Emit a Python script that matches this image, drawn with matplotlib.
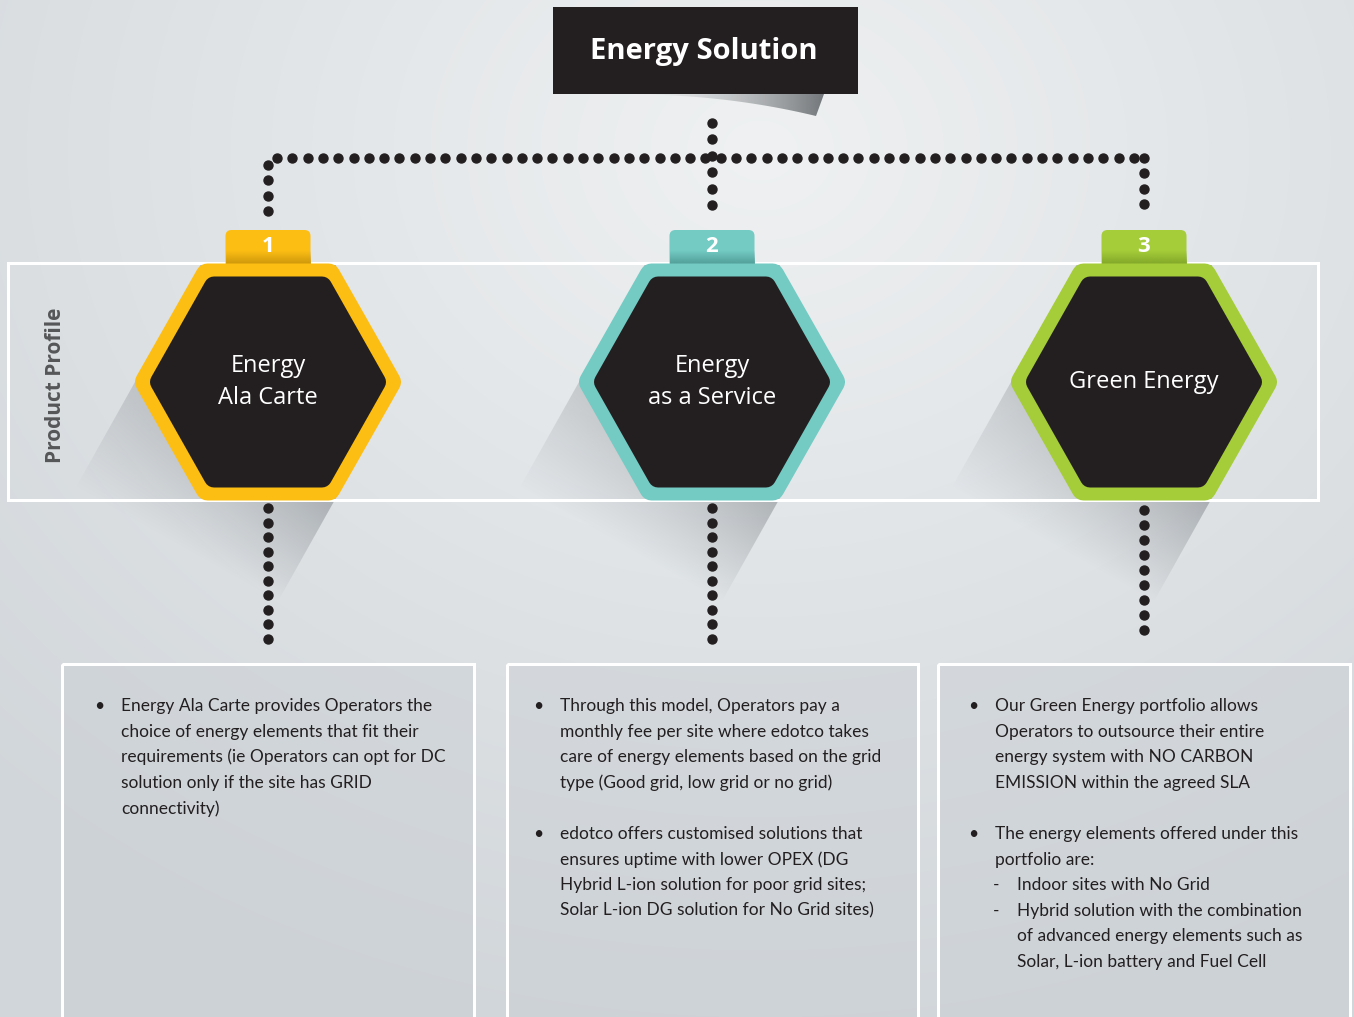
import numpy as np
import matplotlib
matplotlib.use("Agg")
import matplotlib.pyplot as plt
from matplotlib.patches import Polygon, Rectangle, FancyBboxPatch
from matplotlib.colors import to_rgb

W, H = 1354, 1017

# ---- content ----
title = "Energy Solution"
side_label = "Product Profile"
numbers = ["1", "2", "3"]
products = ["Energy\nAla Carte", "Energy\nas a Service", "Green Energy"]
colors = ["#fdbe14", "#73cbc4", "#a5cd39"]
tab_dark = ["#c9940a", "#4f9a94", "#7fa428"]
dark = "#231f20"

box1 = [("b", "Energy Ala Carte provides Operators the"),
        ("c", "choice of energy elements that fit their"),
        ("c", "requirements (ie Operators can opt for DC"),
        ("c", "solution only if the site has GRID"),
        ("c", "connectivity)")]
box2 = [("b", "Through this model, Operators pay a"),
        ("c", "monthly fee per site where edotco takes"),
        ("c", "care of energy elements based on the grid"),
        ("c", "type (Good grid, low grid or no grid)"),
        ("", ""),
        ("b", "edotco offers customised solutions that"),
        ("c", "ensures uptime with lower OPEX (DG"),
        ("c", "Hybrid L-ion solution for poor grid sites;"),
        ("c", "Solar L-ion DG solution for No Grid sites)")]
box3 = [("b", "Our Green Energy portfolio allows"),
        ("c", "Operators to outsource their entire"),
        ("c", "energy system with NO CARBON"),
        ("c", "EMISSION within the agreed SLA"),
        ("", ""),
        ("b", "The energy elements offered under this"),
        ("c", "portfolio are:"),
        ("d", "Indoor sites with No Grid"),
        ("d", "Hybrid solution with the combination"),
        ("dc", "of advanced energy elements such as"),
        ("dc", "Solar, L-ion battery and Fuel Cell")]
boxes = [box1, box2, box3]

# ---- layout ----
hex_x = [268, 712, 1144]
hex_y = 382
box_left = [62, 507, 938]
box_right = [474, 918, 1350]
text_x = [121, 560, 995]


def px(v):
    # pixels -> points
    return v * 72 / 100


def gradient_fill(ax, verts, rgb, alpha_fn, zorder):
    verts = np.asarray(verts, float)
    clip = Polygon(verts, closed=True, facecolor="none", edgecolor="none")
    ax.add_patch(clip)
    x0, x1 = verts[:, 0].min(), verts[:, 0].max()
    y0, y1 = verts[:, 1].min(), verts[:, 1].max()
    nx, ny = int(x1 - x0) + 2, int(y1 - y0) + 2
    X, Y = np.meshgrid(np.linspace(x0, x1, nx), np.linspace(y0, y1, ny))
    img = np.zeros((ny, nx, 4))
    img[..., :3] = to_rgb(rgb)
    img[..., 3] = np.clip(alpha_fn(X, Y), 0, 1)
    im = ax.imshow(img, extent=(x0, x1, y1, y0), origin="upper",
                   interpolation="bilinear", zorder=zorder)
    im.set_clip_path(clip)


def hexagon(cx, cy, a, b):
    return np.array([(cx + a, cy), (cx + a / 2, cy + b), (cx - a / 2, cy + b),
                     (cx - a, cy), (cx - a / 2, cy - b), (cx + a / 2, cy - b)])


fig = plt.figure(figsize=(W / 100, H / 100), dpi=100)
ax = fig.add_axes([0, 0, 1, 1])

# background
yy, xx = np.mgrid[0:H, 0:W]
r = np.sqrt(((xx - 760) / 1100) ** 2 + ((yy - 150) / 900) ** 2)
light = np.array(to_rgb("#eff1f2"))
edge = np.array(to_rgb("#d1d6da"))
t = np.clip(r, 0, 1)[..., None]
ax.imshow(light * (1 - t) + edge * t, extent=(0, W, H, 0), zorder=0)

# title box + its shadow
sx = np.linspace(615, 816, 30)
shadow_edge = np.column_stack([sx, 94 + 22 * ((sx - 615) / 201) ** 2.2])
gradient_fill(ax, np.vstack([shadow_edge, [(824, 94)]]),
              "#5d6165", lambda X, Y: 0.85 * np.clip((X - 615) / 210, 0, 1) ** 1.8, 1)
ax.add_patch(Rectangle((553, 7), 305, 87, facecolor=dark, edgecolor="none", zorder=2))
ax.text(704, 51, title, color="white", fontsize=21, fontweight="bold",
        family="Open Sans", ha="center", va="center", zorder=3)

# dotted connectors
dot = dict(ls="none", marker="o", ms=px(9), color=dark, zorder=3)
hx = np.arange(277, 1140, 15.3)
ax.plot(hx, np.full_like(hx, 158), **dot)
ax.plot([712] * 6, np.linspace(123, 205, 6), **dot)
ax.plot([268] * 4, np.linspace(165, 211, 4), **dot)
ax.plot([1144] * 4, np.linspace(158, 204, 4), **dot)
ax.plot([268] * 10, np.linspace(508, 639, 10), **dot)
ax.plot([712] * 10, np.linspace(508, 639, 10), **dot)
ax.plot([1144] * 9, np.linspace(510, 630, 9), **dot)

# long shadows behind hexagons
a_out, b_out = 133, 118.5
for cx in hex_x:
    v = hexagon(cx, hex_y, a_out, b_out)
    d = np.array([-a_out / 2, b_out])
    d = d / np.hypot(*d)
    n = np.array([d[1], -d[0]])
    T = 187
    tv = (v - [cx, hex_y]) @ d
    p_left = v[4] + (T - tv[4]) * d
    p_right = v[0] + (T - tv[0]) * d
    poly = [v[5], v[4], p_left, p_right, v[0]]

    def alpha(X, Y, cx=cx, d=d, n=n):
        tt = (X - cx) * d[0] + (Y - hex_y) * d[1]
        uu = (X - cx) * n[0] + (Y - hex_y) * n[1]
        lat = 0.55 + 0.45 * np.clip((uu + 120) / 240, 0, 1)
        return 0.72 * np.clip((T - tt) / (T + 20), 0, 1) ** 1.0 * lat
    gradient_fill(ax, poly, "#5f656b", alpha, 2)

# product profile band
ax.add_patch(Rectangle((8, 263), 1310, 237, facecolor="none", edgecolor="white",
                       lw=px(3), zorder=3))
ax.text(56, 385, side_label, rotation=90, color="#555658", fontsize=15,
        fontweight="bold", family="Open Sans", ha="center", va="center", zorder=3)

# tabs, hexagons, labels
for i, cx in enumerate(hex_x):
    tab = FancyBboxPatch((cx - 42.5, 230), 85, 45, boxstyle="round,pad=0,rounding_size=6",
                         facecolor=colors[i], edgecolor="none", zorder=4)
    ax.add_patch(tab)
    gradient_fill(ax, [(cx - 42.5, 248), (cx + 42.5, 248), (cx + 42.5, 268), (cx - 42.5, 268)],
                  tab_dark[i], lambda X, Y: np.clip((Y - 250) / 14, 0, 1) * 0.9, 4.5)
    ax.text(cx, 247, numbers[i], color="white", fontsize=16, fontweight="bold",
            family="Open Sans", ha="center", va="center", zorder=5)

    ro = 12
    ax.add_patch(Polygon(hexagon(cx, hex_y, a_out - ro, b_out - ro), closed=True,
                         facecolor=colors[i], edgecolor=colors[i], lw=px(2 * ro),
                         joinstyle="round", zorder=6))
    ri = 10
    ax.add_patch(Polygon(hexagon(cx, hex_y, 118 - ri, 105.5 - ri), closed=True,
                         facecolor=dark, edgecolor=dark, lw=px(2 * ri),
                         joinstyle="round", zorder=7))
    ax.text(cx, hex_y, products[i], color="white", fontsize=17, family="Open Sans",
            ha="center", va="center", linespacing=1.45, zorder=8)

# description boxes
line_h = 25.6
for i, lines in enumerate(boxes):
    ax.add_patch(Rectangle((box_left[i], 664), box_right[i] - box_left[i], 400,
                           facecolor="#cbd0d5", alpha=0.5, edgecolor="none", zorder=2))
    ax.add_patch(Rectangle((box_left[i], 664), box_right[i] - box_left[i], 400,
                           facecolor="none", edgecolor="white", lw=px(3), zorder=3))
    tx = text_x[i]
    for k, (kind, txt) in enumerate(lines):
        y = 706 + k * line_h
        kw = dict(color=dark, fontsize=12.5, family="Lato", va="center", zorder=4)
        if kind == "b":
            ax.text(tx - 22, y, "\u2022", ha="center", **kw)
            ax.text(tx, y, txt, ha="left", **kw)
        elif kind == "c":
            ax.text(tx, y, txt, ha="left", **kw)
        elif kind == "d":
            ax.text(tx + 1, y, "-", ha="center", **kw)
            ax.text(tx + 22, y, txt, ha="left", **kw)
        elif kind == "dc":
            ax.text(tx + 22, y, txt, ha="left", **kw)

ax.set_xlim(0, W)
ax.set_ylim(H, 0)
ax.set_aspect("auto")
ax.axis("off")
fig.savefig("out.png", dpi=100)
